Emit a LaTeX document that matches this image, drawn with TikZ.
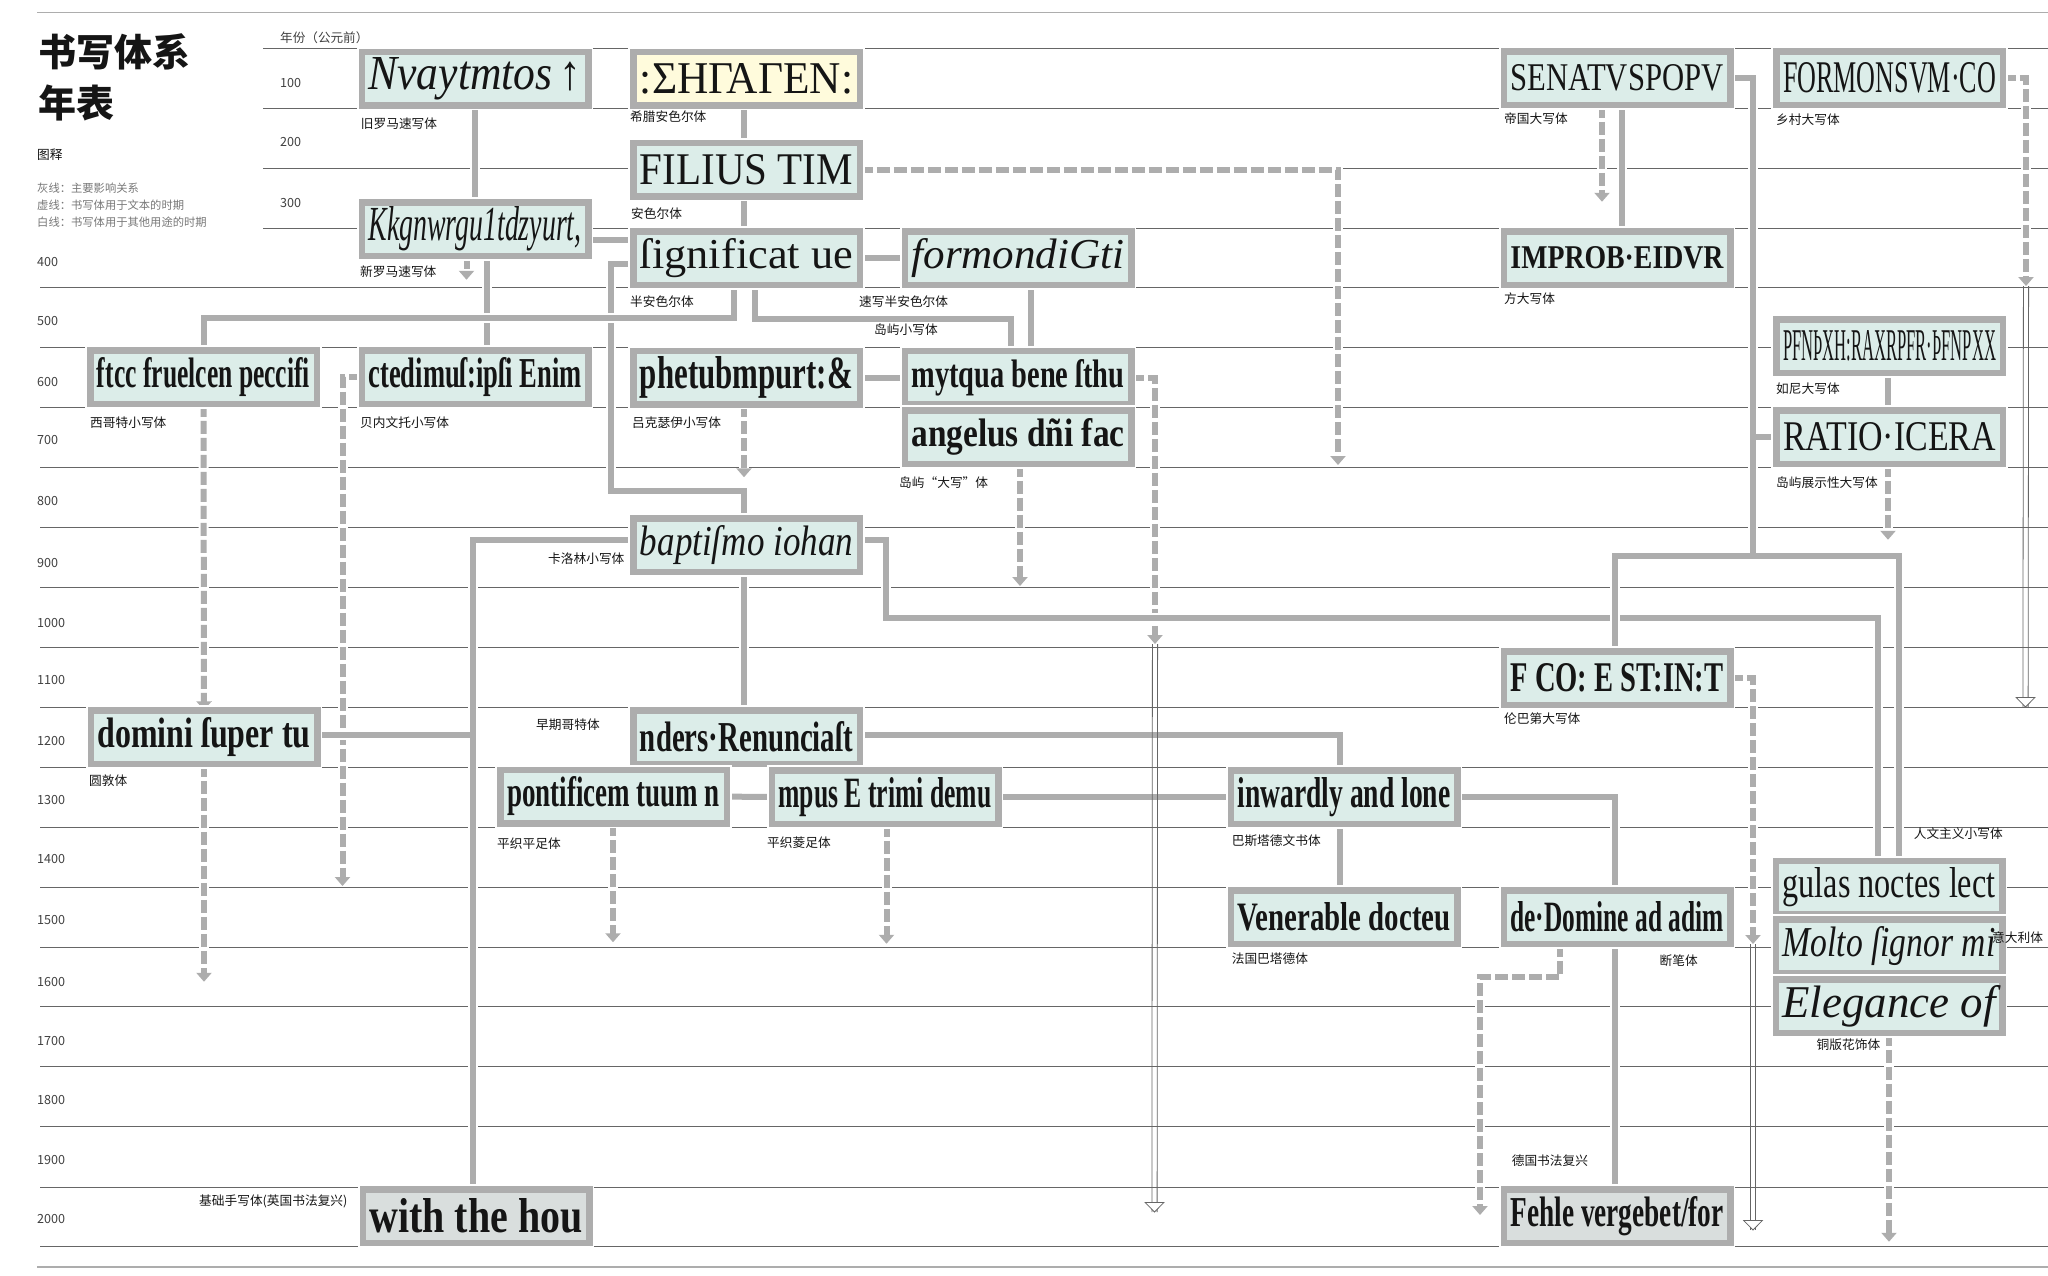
\documentclass[tikz,border=0pt]{standalone}
\usepackage{fontspec}
\usepackage{graphicx}
\usepackage{tikz}
\usetikzlibrary{arrows.meta}
\setmainfont{Noto Sans CJK SC}
\newfontfamily\scriptserif{Liberation Serif}
\definecolor{boxgray}{HTML}{ADADAD}
\definecolor{boxfill}{HTML}{DCEDE9}
\definecolor{greekfill}{HTML}{FFFBDC}
\definecolor{modernfill}{HTML}{D9DEDD}
\definecolor{rulegray}{HTML}{666666}
\definecolor{keygray}{HTML}{777777}
\definecolor{inkblack}{HTML}{151515}
\newcommand{\sample}[2][30pt]{\resizebox{213pt}{#1}{\color{inkblack}#2}}
\newcommand{\plainpen}[1]{\scriptserif #1}
\newcommand{\italicpen}[1]{\scriptserif\itshape #1}
\newcommand{\blackpen}[1]{\scriptserif\bfseries #1}
\newcommand{\hollowdrop}[2]{
  \draw[hollowline] ([xshift=-2.6pt]#1) -- ([xshift=-2.6pt]#2);
  \draw[hollowline] ([xshift=2.6pt]#1) -- ([xshift=2.6pt]#2);
  \draw[hollowline, fill=white] (#2) ++(-9.3,-9.5) -- ++(18.6,0) -- (#2) -- cycle;
}
\pgfdeclarelayer{grid}
\pgfdeclarelayer{links}
\pgfsetlayers{grid,links,main}

\begin{document}
\begin{tikzpicture}[
  x=1pt, y=-1pt,
  scriptbox/.style={rectangle, draw=boxgray, line width=6.5pt, fill=boxfill, minimum width=226.5pt, minimum height=53.5pt, inner sep=0pt, outer sep=0pt, preaction={draw=white, line width=10pt}},
  link/.style={draw=boxgray, line width=6pt, preaction={draw=white, line width=10pt}},
  textperiod/.style={draw=boxgray, line width=6pt, dash pattern=on 13pt off 4pt, -{Triangle[width=15pt,length=9pt]}, preaction={draw=white, line width=10pt, solid, -}},
  hollowline/.style={draw=rulegray, line width=.8pt},
  rowline/.style={draw=rulegray, line width=.9pt},
  scriptname/.style={anchor=west, inner sep=0pt, font=\fontsize{12.7}{15}\selectfont, text=inkblack},
  keyline/.style={anchor=west, inner sep=0pt, font=\fontsize{11.3}{14}\selectfont, text=keygray},
  yearlabel/.style={anchor=west, inner sep=0pt, font=\fontsize{12.6}{15}\selectfont, text=black!75}
]
\useasboundingbox (0,0) rectangle (2048,1275);

% Year rows
\begin{pgfonlayer}{grid}
\foreach \rowy in {48,108,168,228}
  \draw[rowline] (263,\rowy) -- (2048,\rowy);
\foreach \rowy in {287,347,407,467,527,587,647,707,767,827,887,947,1006,1066,1126,1187,1246}
  \draw[rowline] (40,\rowy) -- (2048,\rowy);
\draw[draw=boxgray, line width=1.2pt] (37,12.5) -- (2048,12.5);
\draw[draw=boxgray, line width=1.2pt] (37,1267) -- (2048,1267);
\end{pgfonlayer}

\foreach \yr/\yy in {100/83.3,200/142,300/203}
  \node[yearlabel] (year\yr) at (280,\yy) {\yr};
\foreach \yr/\yy in {400/262,500/321,600/382,700/440,800/501,900/562.7,1000/623,1100/680,1200/741.4,1300/800,1400/859,1500/919.7,1600/981.5,1700/1040.6,1800/1100,1900/1160,2000/1219}
  \node[yearlabel] (year\yr) at (37,\yy) {\yr};
\node[yearlabel] (yearhead) at (280,38) {年份（公元前）};

% Title and key
\node[anchor=west, inner sep=0pt, font=\fontsize{38}{44}\bfseries\selectfont, text=inkblack] (title) at (38,52) {书写体系};
\node[anchor=west, inner sep=0pt, font=\fontsize{38}{44}\bfseries\selectfont, text=inkblack] (titletwo) at (38,103) {年表};
\node[scriptname] (keyhead) at (37,155) {图释};
\node[keyline] (keysolid) at (37,188) {灰线：主要影响关系};
\node[keyline] (keydash) at (37,205) {虚线：书写体用于文本的时期};
\node[keyline] (keywhite) at (37,222) {白线：书写体用于其他用途的时期};

% Scripts
\node[scriptbox] (oldroman) at (475,78.5) {\sample[32pt]{\italicpen{Nvaytmtos\,↑}}};
\node[scriptbox] (newroman) at (475,229) {\sample[34pt]{\italicpen{Kkgnwrgu1tdzyurt,}}};
\node[scriptbox, fill=greekfill] (greekuncial) at (746.5,78.5) {\sample[30pt]{\plainpen{:ΣΗΓΑΓΕΝ:}}};
\node[scriptbox] (uncial) at (746.5,169.5) {\sample[30pt]{\plainpen{FILIUS TIM}}};
\node[scriptbox] (halfuncial) at (746.5,258) {\sample[30pt]{\plainpen{ſignificat ue}}};
\node[scriptbox] (cursivehalf) at (1018,258) {\sample[30pt]{\italicpen{formondiGti}}};
\node[scriptbox] (visigothic) at (203.5,377) {\sample[30pt]{\blackpen{ftcc fruelcen peccifi}}};
\node[scriptbox] (beneventan) at (475,377) {\sample[30pt]{\blackpen{ctedimuſ:ipſi Enim}}};
\node[scriptbox] (luxeuil) at (746.5,377.5) {\sample[32pt]{\blackpen{phetubmpurt:\&}}};
\node[scriptbox] (insularmin) at (1018,377.5) {\sample[28pt]{\blackpen{mytqua bene ſthu}}};
\node[scriptbox] (insularmaj) at (1018,437) {\sample[28pt]{\blackpen{angelus dñi fac}}};
\node[scriptbox] (carolingian) at (746.5,545) {\sample[30pt]{\italicpen{baptiſmo iohan}}};
\node[scriptbox] (earlygothic) at (746.5,737) {\sample[30pt]{\blackpen{nders·Renunciaſt}}};
\node[scriptbox] (roundhand) at (204,737) {\sample[30pt]{\blackpen{domini ſuper tu}}};
\node[scriptbox] (quadrata) at (613.5,796.5) {\sample[30pt]{\blackpen{pontificem tuum n}}};
\node[scriptbox] (prescissa) at (885,797) {\sample[30pt]{\blackpen{mpus E trimi demu}}};
\node[scriptbox] (bastardatext) at (1344,797) {\sample[30pt]{\blackpen{inwardly and lone}}};
\node[scriptbox] (frenchbastarda) at (1344,917) {\sample[28pt]{\blackpen{Venerable docteu}}};
\node[scriptbox] (imperial) at (1617,78) {\sample[26pt]{\plainpen{SENATVSPOPV}}};
\node[scriptbox] (square) at (1617,258) {\sample[22pt]{\blackpen{IMPROB·EIDVR}}};
\node[scriptbox] (lombardic) at (1617,678) {\sample[28pt]{\blackpen{F CO: E ST:IN:T}}};
\node[scriptbox] (fractura) at (1617,917) {\sample[30pt]{\blackpen{de·Domine ad adim}}};
\node[scriptbox, fill=modernfill] (fraktur) at (1617,1216) {\sample[30pt]{\blackpen{Fehle vergebet/for}}};
\node[scriptbox, fill=modernfill] (foundational) at (476,1216) {\sample[34pt]{\blackpen{with the hou}}};
\node[scriptbox] (rustic) at (1889.5,78) {\sample[30pt]{\plainpen{FORMONSVM·CO}}};
\node[scriptbox] (runic) at (1889.5,346) {\sample[30pt]{\plainpen{PFNÞXH:RAXRPFR·ÞFNPXX}}};
\node[scriptbox] (insulardisplay) at (1889.5,437) {\sample[28pt]{\plainpen{RATIO·ICERA}}};
\node[scriptbox] (humanist) at (1889,887.5) {\sample[30pt]{\plainpen{gulas noctes lect}}};
\node[scriptbox] (italicscript) at (1889,946) {\sample[30pt]{\italicpen{Molto ſignor mi}}};
\node[scriptbox] (copperplate) at (1889,1006) {\sample[32pt]{\italicpen{Elegance of}}};

% Names of scripts
\node[scriptname] (oldromanname) at (360.7,124) {旧罗马速写体};
\node[scriptname] (newromanname) at (360,272) {新罗马速写体};
\node[scriptname] (visigothicname) at (90,423) {西哥特小写体};
\node[scriptname] (beneventanname) at (360,423) {贝内文托小写体};
\node[scriptname] (luxeuilname) at (632,423) {吕克瑟伊小写体};
\node[scriptname] (greekuncialname) at (630,117) {希腊安色尔体};
\node[scriptname] (uncialname) at (631,214) {安色尔体};
\node[scriptname] (halfuncialname) at (630,302) {半安色尔体};
\node[scriptname] (cursivehalfname) at (859,302) {速写半安色尔体};
\node[scriptname] (insularminname) at (874,330) {岛屿小写体};
\node[scriptname] (insularmajname) at (899,483) {岛屿“大写”体};
\node[scriptname] (imperialname) at (1504,118.6) {帝国大写体};
\node[scriptname] (rusticname) at (1776,120) {乡村大写体};
\node[scriptname] (squarename) at (1504,299) {方大写体};
\node[scriptname] (runicname) at (1776,388.6) {如尼大写体};
\node[scriptname] (insulardisplayname) at (1776,482.5) {岛屿展示性大写体};
\node[scriptname] (carolingianname) at (548,559) {卡洛林小写体};
\node[scriptname] (earlygothicname) at (536,725) {早期哥特体};
\node[scriptname] (roundhandname) at (89,781) {圆敦体};
\node[scriptname] (quadrataname) at (497,843.5) {平织平足体};
\node[scriptname] (prescissaname) at (767,843) {平织菱足体};
\node[scriptname] (bastardatextname) at (1231.6,841) {巴斯塔德文书体};
\node[scriptname] (frenchbastardaname) at (1231.6,959) {法国巴塔德体};
\node[scriptname] (lombardicname) at (1504,719) {伦巴第大写体};
\node[scriptname] (fracturaname) at (1659.5,960.6) {断笔体};
\node[scriptname] (humanistname) at (1913.6,833.6) {人文主义小写体};
\node[scriptname] (italicscriptname) at (1992,938) {意大利体};
\node[scriptname] (copperplatename) at (1816.5,1044.5) {铜版花饰体};
\node[scriptname] (frakturname) at (1511.6,1160.7) {德国书法复兴};
\node[scriptname] (foundationalname) at (199,1201) {基础手写体(英国书法复兴)};

% Main influences and periods of use
\begin{pgfonlayer}{links}
\coordinate (visigothbus) at (470,318);
\coordinate (humanbus) at (1753,556);
\coordinate (latebus) at (1400,618);
\coordinate (earlybus) at (1200,735);
\coordinate (dashbend) at (1520,977);

\draw[link] (oldroman) -- (newroman);
\draw[link] ([xshift=12pt]newroman.south) -- ([xshift=12pt]beneventan.north);
\draw[textperiod] ([xshift=-8.5pt]newroman.south) -- ++(0,24);
\draw[link] ([yshift=-11pt]newroman.east) -- ([yshift=18pt]halfuncial.west);
\draw[link] ([yshift=-6pt]halfuncial.west) -| (611,490.7) -| ([xshift=-2.5pt]carolingian.north);
\draw[link] ([xshift=-2.5pt]greekuncial.south) -- ([xshift=-2.5pt]uncial.north);
\draw[link] ([xshift=-2.5pt]uncial.south) -- ([xshift=-2.5pt]halfuncial.north);
\draw[link] ([xshift=-12.5pt]halfuncial.south) |- (visigothbus) -| (visigothic.north);
\draw[link] ([xshift=8.5pt]halfuncial.south) -- ++(0,34) -| ([xshift=-7pt]insularmin.north);
\draw[link] (halfuncial) -- (cursivehalf);
\draw[link] ([xshift=13pt]cursivehalf.south) -- ([xshift=13pt]insularmin.north);
\draw[link] (luxeuil) -- (insularmin);

\draw[textperiod] (visigothic.south) -- (roundhand.north);
\draw[textperiod] ([xshift=-2.5pt]luxeuil.south) -- ++(0,73);
\draw[textperiod] (uncial.east) -| (1338,465);
\draw[textperiod] ([xshift=2pt]insularmaj.south) -- (1020,586);
\coordinate (insularminend) at (1155,644);
\draw[textperiod] (insularmin.east) -| (insularminend);
\draw[textperiod] (beneventan.west) -| (342.5,886);

\draw[link] ([xshift=-2.5pt]carolingian.south) -- ([xshift=-2.5pt]earlygothic.north);
\draw[link] ([yshift=5pt]carolingian.west) -| ([xshift=-3pt]foundational.north)
  ([yshift=2pt]roundhand.east) -- ([xshift=-3pt,yshift=2pt]foundational.north |- roundhand.east);
\draw[link] ([yshift=5pt]carolingian.east) -| (885.5,618) -- (latebus) -| (humanist.north -| 1878,0);

\draw[textperiod] (roundhand.south) -- ++(0,218);
\draw[link] (quadrata) -- (prescissa);
\draw[link] (prescissa) -- (bastardatext);
\draw[link] ([yshift=2pt]earlygothic.east) -| (earlybus) -| ([xshift=-4pt]bastardatext.north);
\draw[link] (bastardatext.east) -| (fractura.north -| 1614.5,0);
\draw[link] ([xshift=-4pt]bastardatext.south) -- ([xshift=-4pt]frenchbastarda.north);
\draw[link] ([xshift=-2.5pt]fractura.south) -- ([xshift=-2.5pt]fraktur.north);
\draw[textperiod] ([xshift=-.5pt]quadrata.south) -- ++(0,119);
\draw[textperiod] ([xshift=1.5pt]prescissa.south) -- ++(0,120);
\draw[textperiod] ([xshift=-57.5pt]fractura.south) |- (dashbend) -| (1480,1215);

\draw[link] ([xshift=5pt]imperial.south) -- ([xshift=5pt]square.north);
\draw[textperiod] ([xshift=-15pt]imperial.south) -- ++(0,97);
\draw[link] (imperial.east) -| (humanbus)
  (lombardic.north -| 1614.5,0) |- (humanbus) -| ([xshift=10pt]humanist.north)
  (insulardisplay.west) -- (insulardisplay.west -| humanbus);
\draw[link] ([xshift=-1.5pt]runic.south) -- ([xshift=-1.5pt]insulardisplay.north);
\draw[textperiod] (insulardisplay.south) ++(-1.5,0) -- ++(0,76);
\draw[textperiod] (copperplate.south) -- ++(0,209);
\coordinate (rusticend) at (2026,286);
\draw[textperiod] (rustic.east) -| (rusticend);
\coordinate (lombardicend) at (1753,944);
\draw[textperiod] (lombardic.east) -| (lombardicend);

% Periods of other use
\coordinate (insularminstop) at (1154.5,1212);
\coordinate (rusticstop) at (2025.5,707);
\coordinate (lombardicstop) at (1753,1230);
\hollowdrop{insularminend}{insularminstop}
\hollowdrop{rusticend}{rusticstop}
\hollowdrop{lombardicend}{lombardicstop}
\end{pgfonlayer}

\end{tikzpicture}
\end{document}
